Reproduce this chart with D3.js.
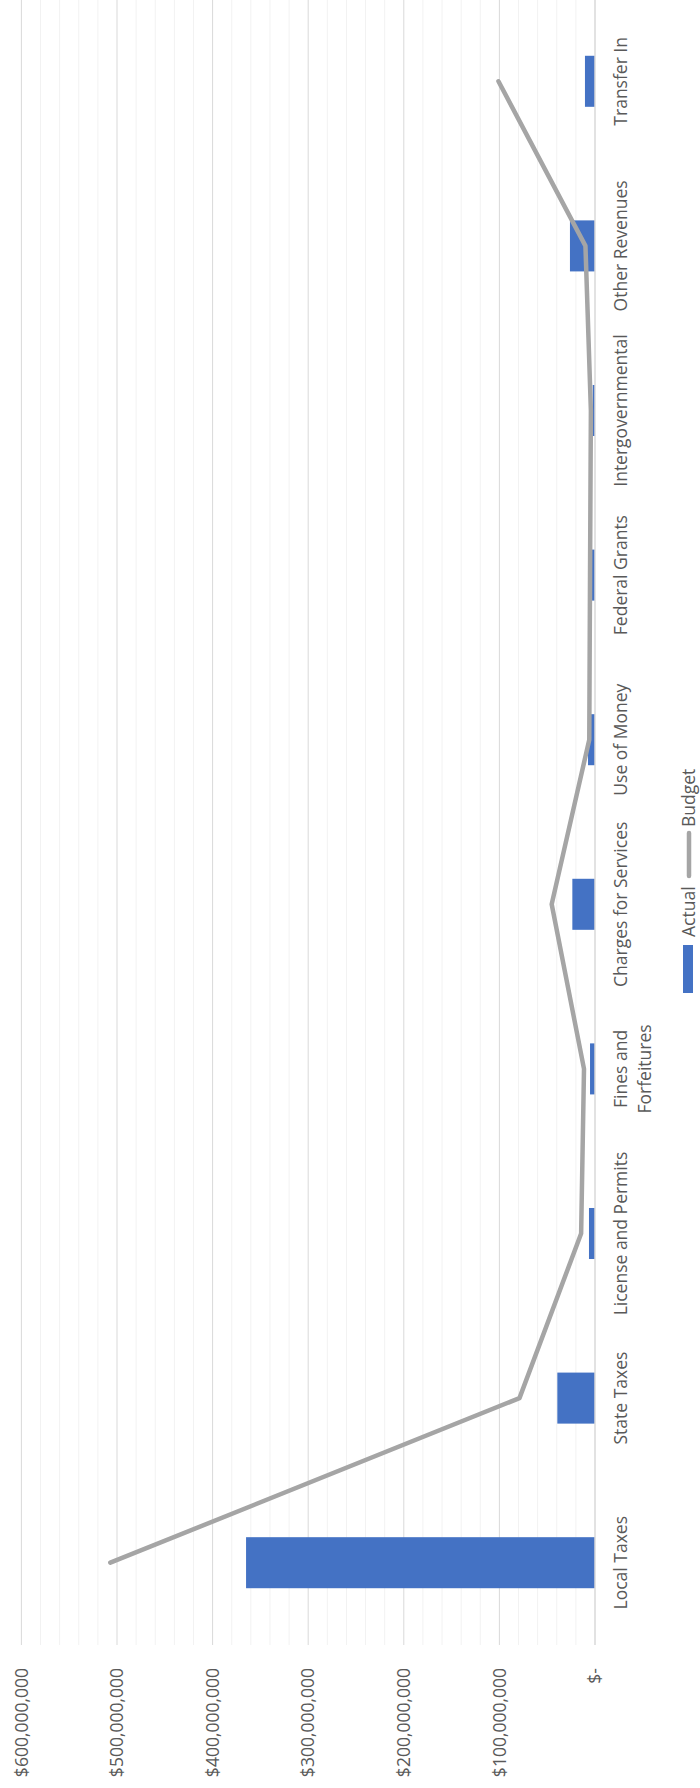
<!DOCTYPE html>
<html>
<head>
<meta charset="utf-8">
<script src="https://cdn.jsdelivr.net/npm/d3@7"></script>
<style>
  html, body { margin: 0; padding: 0; background: #fff; }
  text { font-family: "Open Sans", sans-serif; fill: #595959; }
</style>
</head>
<body>
<svg id="chart" width="700" height="1788"></svg>
<script>
const categories = ["Local Taxes", "State Taxes", "License and Permits", "Fines and Forfeitures",
  "Charges for Services", "Use of Money", "Federal Grants", "Intergovernmental", "Other Revenues", "Transfer In"];
const categoryLines = [["Local Taxes"], ["State Taxes"], ["License and Permits"], ["Fines and", "Forfeitures"],
  ["Charges for Services"], ["Use of Money"], ["Federal Grants"], ["Intergovernmental"], ["Other Revenues"], ["Transfer In"]];
const actual = [365e6, 39.4e6, 6.3e6, 5.2e6, 23.7e6, 7.3e6, 3.1e6, 2.4e6, 26.2e6, 10.5e6];
const budget = [507e6, 79e6, 14.5e6, 11.5e6, 45.3e6, 6e6, 5.2e6, 4.3e6, 10e6, 101e6];
const majorTicks = [0, 100e6, 200e6, 300e6, 400e6, 500e6, 600e6];
const tickLabels = ["$-", "$100,000,000", "$200,000,000", "$300,000,000", "$400,000,000", "$500,000,000", "$600,000,000"];
const seriesNames = ["Actual", "Budget"];

const W = 1788, H = 700;
const svg = d3.select("#chart");
// Draw in an unrotated W x H frame, then rotate counter-clockwise
const g = svg.append("g").attr("transform", `translate(0,${W}) rotate(-90)`);

const x = d3.scalePoint().domain(categories).range([143, 1789]).padding(0.5);
const step = x.step();
const y = d3.scaleLinear().domain([0, 600e6]).range([595, 21.4]);

const fontSize = 17.5;

// minor gridlines
const minor = d3.range(0, 600e6 + 1, 20e6).filter(v => v % 100e6 !== 0);
g.append("g").selectAll("line").data(minor).join("line")
  .attr("x1", 143).attr("x2", 1789)
  .attr("y1", d => y(d)).attr("y2", d => y(d))
  .attr("stroke", "#F2F2F2").attr("stroke-width", 1);
// major gridlines
g.append("g").selectAll("line").data(majorTicks.filter(v => v > 0)).join("line")
  .attr("x1", 143).attr("x2", 1789)
  .attr("y1", d => y(d)).attr("y2", d => y(d))
  .attr("stroke", "#D9D9D9").attr("stroke-width", 1);

// tick labels
g.append("g").selectAll("text").data(majorTicks).join("text")
  .attr("x", 120).attr("y", d => y(d))
  .attr("dy", "0.35em")
  .attr("text-anchor", "end")
  .attr("font-size", fontSize)
  .text((d, i) => tickLabels[i]);

// bars
const barW = step * 0.31;
g.append("g").selectAll("rect").data(categories).join("rect")
  .attr("x", d => x(d) - barW / 2)
  .attr("width", barW)
  .attr("y", (d, i) => y(actual[i]))
  .attr("height", (d, i) => y(0) - y(actual[i]))
  .attr("fill", "#4472C4");

// axis line
g.append("line")
  .attr("x1", 143).attr("x2", 1789)
  .attr("y1", y(0)).attr("y2", y(0))
  .attr("stroke", "#D9D9D9").attr("stroke-width", 1.5);

// budget line
const line = d3.line().x((d, i) => x(categories[i])).y(d => y(d));
g.append("path").datum(budget)
  .attr("d", line)
  .attr("fill", "none")
  .attr("stroke", "#A5A5A5")
  .attr("stroke-width", 4.5)
  .attr("stroke-linejoin", "round")
  .attr("stroke-linecap", "round");

// category labels
const cl = g.append("g").selectAll("text").data(categories).join("text")
  .attr("text-anchor", "middle")
  .attr("font-size", fontSize);
cl.each(function(d, i) {
  const t = d3.select(this);
  categoryLines[i].forEach((ln, j) => {
    t.append("tspan").attr("x", x(d)).attr("y", 627 + j * 24).text(ln);
  });
});

// legend
const lg = g.append("g");
lg.append("rect").attr("x", 795).attr("y", 683).attr("width", 48).attr("height", 10).attr("fill", "#4472C4");
lg.append("text").attr("x", 851).attr("y", 695).attr("font-size", fontSize).text(seriesNames[0]);
lg.append("line").attr("x1", 912).attr("x2", 955).attr("y1", 689).attr("y2", 689)
  .attr("stroke", "#A5A5A5").attr("stroke-width", 4.5).attr("stroke-linecap", "round");
lg.append("text").attr("x", 961).attr("y", 695).attr("font-size", fontSize).text(seriesNames[1]);
</script>
</body>
</html>
